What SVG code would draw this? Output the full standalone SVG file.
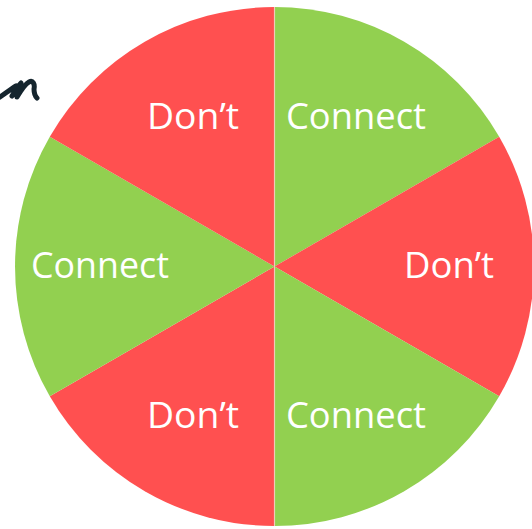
<svg xmlns="http://www.w3.org/2000/svg" width="532" height="529" viewBox="0 0 532 529">
  <style>
    .red { fill: #FF5050; }
    .green { fill: #92D050; }
    .lbl { font-family: "Open Sans", "DejaVu Sans", sans-serif; font-size: 36px; fill: #FFFFFF; }
  </style>
  <rect width="532" height="529" fill="#FFFFFF"/>
  <g id="scribble">
    <path d="M0,97 C6,93 11,89 16,86 M12,96 C15,91 18,86 21,83 C19,88 17,93 17,97 C20,92 25,84 29,82 C33,80 35,84 34,89 C34,93 35,96 37,98" fill="none" stroke="#15252e" stroke-width="5" stroke-linecap="round" stroke-linejoin="round"/>
  </g>
  <g id="wheel">
    <g id="sector-top-right"><path class="green" d="M274.5,266.5 L274.5,7 A259.5,259.5 0 0 1 499.2,136.75 Z"/></g>
    <g id="sector-right"><path class="red" d="M274.5,266.5 L499.2,136.75 A259.5,259.5 0 0 1 499.2,396.25 Z"/></g>
    <g id="sector-bottom-right"><path class="green" d="M274.5,266.5 L499.2,396.25 A259.5,259.5 0 0 1 274.5,526 Z"/></g>
    <g id="sector-bottom-left"><path class="red" d="M274.5,266.5 L274.5,526 A259.5,259.5 0 0 1 49.8,396.25 Z"/></g>
    <g id="sector-left"><path class="green" d="M274.5,266.5 L49.8,396.25 A259.5,259.5 0 0 1 49.8,136.75 Z"/></g>
    <g id="sector-top-left"><path class="red" d="M274.5,266.5 L49.8,136.75 A259.5,259.5 0 0 1 274.5,7 Z"/></g>
    <line x1="274.5" y1="7" x2="274.5" y2="526" stroke="#F4D8C8" stroke-width="1.2" opacity="0.8"/>
  </g>
  <g id="labels">
    <text class="lbl" x="147" y="129" textLength="92" lengthAdjust="spacingAndGlyphs">Don’t</text>
    <text class="lbl" x="286" y="129" textLength="140" lengthAdjust="spacingAndGlyphs">Connect</text>
    <text class="lbl" x="31" y="278" textLength="138" lengthAdjust="spacingAndGlyphs">Connect</text>
    <text class="lbl" x="404" y="278" textLength="90" lengthAdjust="spacingAndGlyphs">Don’t</text>
    <text class="lbl" x="147" y="428" textLength="92" lengthAdjust="spacingAndGlyphs">Don’t</text>
    <text class="lbl" x="286" y="428" textLength="140" lengthAdjust="spacingAndGlyphs">Connect</text>
  </g>
</svg>
